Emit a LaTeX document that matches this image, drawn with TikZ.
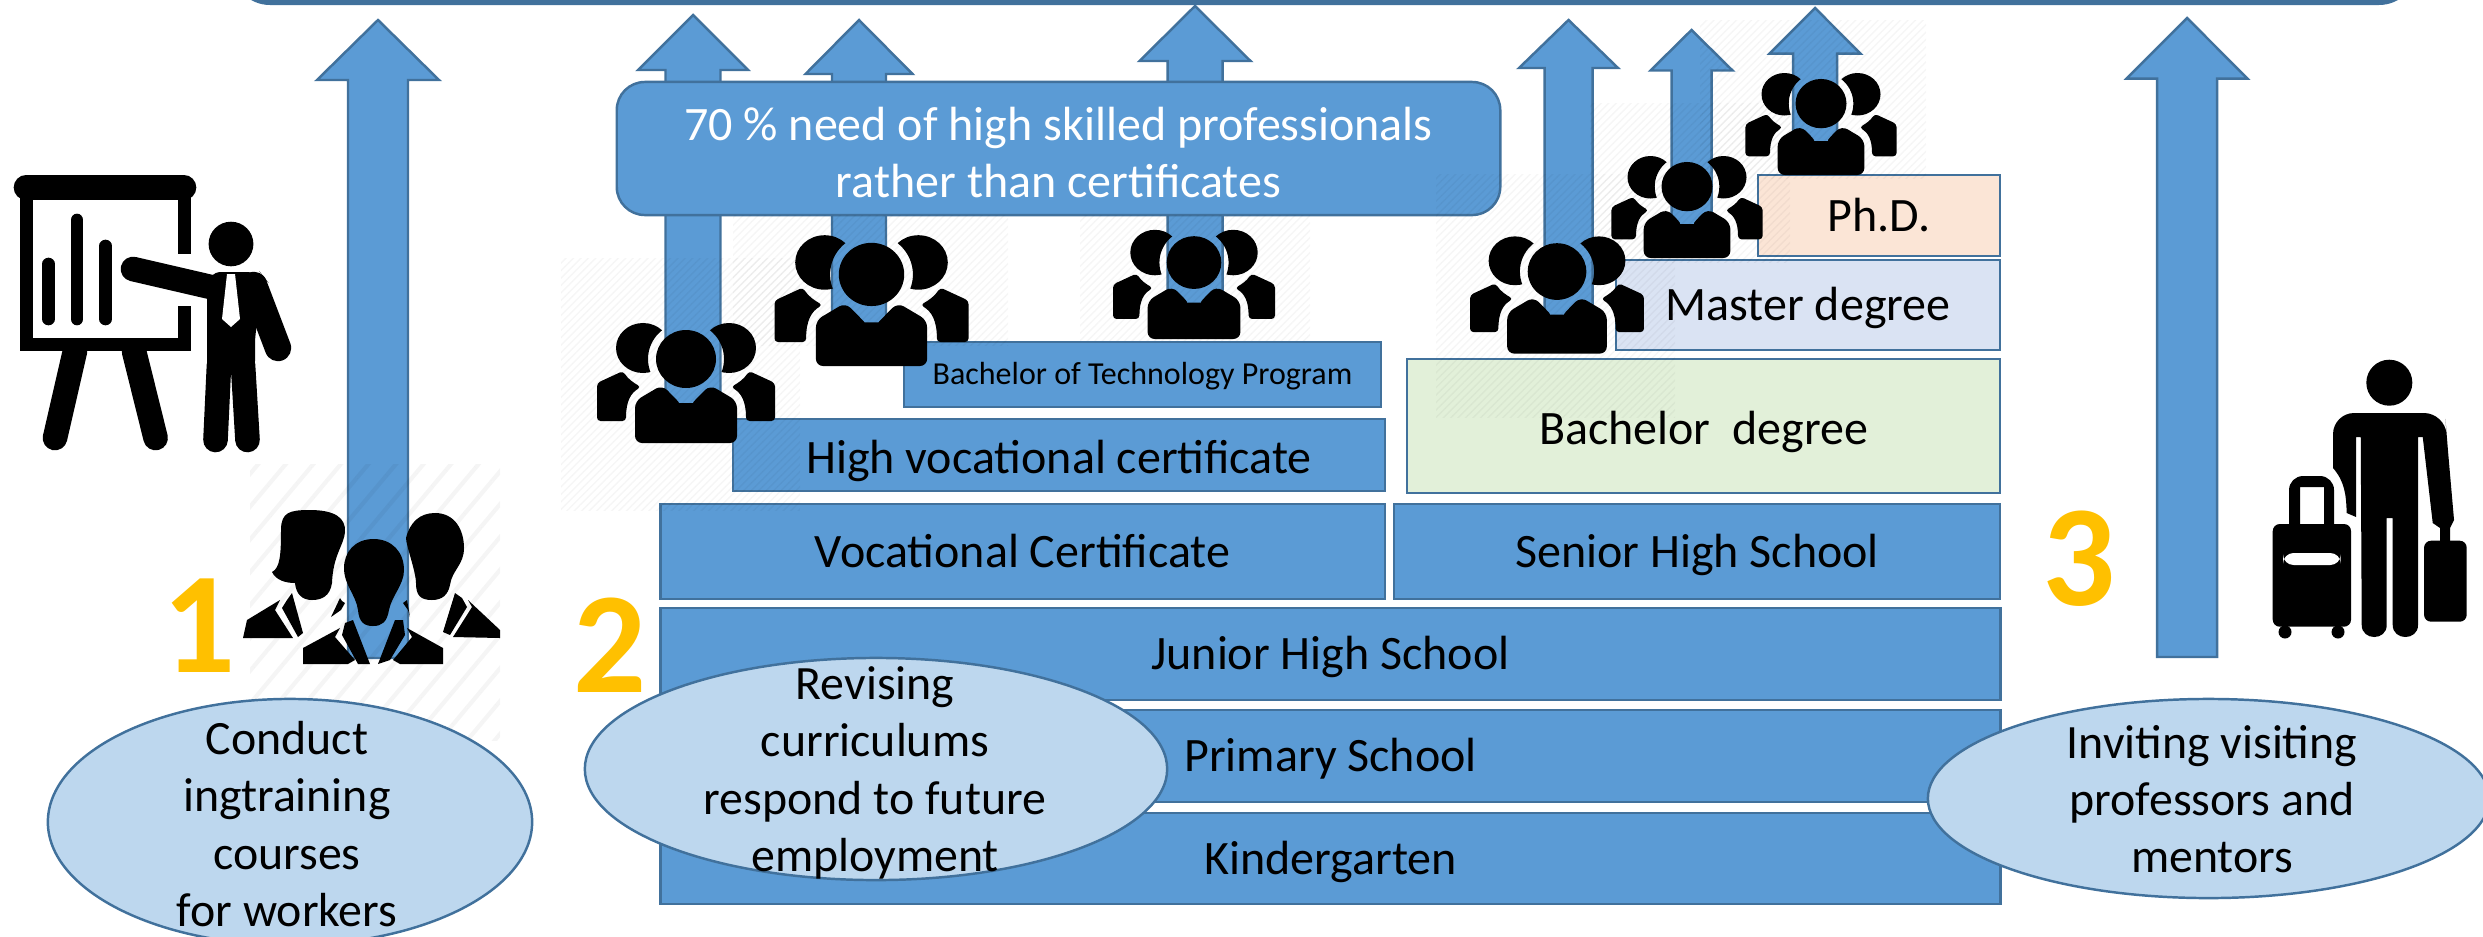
\documentclass[tikz,border=0pt]{standalone}
\usepackage{fontspec}
\setmainfont{Carlito}
\usepackage{xcolor}
\usetikzlibrary{calc,shapes.geometric,patterns.meta}
\definecolor{boxblue}{HTML}{5B9BD5}
\definecolor{edgeblue}{HTML}{41719C}
\definecolor{ovalblue}{HTML}{BDD7EE}
\definecolor{gold}{HTML}{FFC000}
\definecolor{bachgreen}{HTML}{E2F0D9}
\definecolor{mastblue}{HTML}{DAE3F3}
\definecolor{phdrose}{HTML}{FBE5D6}
\newcommand{\blockup}[6]{\draw[barrow] (#1,#2) -- ({#1+#4},#3) -- ({#1+#5},#3) -- ({#1+#5},#6) -- ({#1-#5},#6) -- ({#1-#5},#3) -- ({#1-#4},#3) -- cycle;}
\tikzset{
pics/crowd/.style={code={
	\begin{scope}[even odd rule]
	\clip (0,-84) ellipse (38 and 37) (-120,-150) rectangle (120,20);
	\fill (-43,-95) ellipse (27 and 25);
	\fill (43,-95) ellipse (27 and 25);
	\end{scope}
	\fill[rounded corners=1pt] (-89,-22) -- (-89,-60) -- (-63,-72) .. controls (-58,-64) and (-52,-60) .. (-45,-56) .. controls (-55,-50) and (-60,-42) .. (-60,-22) -- cycle;
	\fill[rounded corners=1pt] (89,-22) -- (89,-60) -- (63,-72) .. controls (58,-64) and (52,-60) .. (45,-56) .. controls (55,-50) and (60,-42) .. (60,-22) -- cycle;
	\fill (0,-84) ellipse (30 and 29);
	\fill[rounded corners=2pt] (-51,0) -- (-51,-42) -- (-24,-58) .. controls (-14,-48) and (-6,-40) .. (0,-40) .. controls (6,-40) and (14,-48) .. (24,-58) -- (51,-42) -- (51,0) -- cycle;
}}
}
\begin{document}
\begin{tikzpicture}[x=0.01cm,y=-0.01cm,
	lvl/.style={draw=edgeblue,fill=boxblue,line width=.7pt,inner sep=0,text height=12.9pt,text depth=4pt,font=\fontsize{13.65}{16}\selectfont},
	oval/.style={ellipse,draw=edgeblue,fill=ovalblue,line width=.7pt,inner sep=0},
	ovaltext/.style={align=center,inner sep=0,font=\fontsize{13.6}{16.3}\selectfont},
	barrow/.style={draw=edgeblue,fill=boxblue,line width=.7pt},
	digit/.style={text=gold,inner sep=0,font=\fontsize{41}{41}\selectfont\bfseries},
	hatch/.style={pattern={Lines[angle=45,distance=1.5pt,line width=.4pt]},pattern color=black,opacity=.035},
	widehatch/.style={pattern={Lines[angle=50,distance=6pt,line width=1.2pt]},pattern color=black,opacity=.04}]

\clip (0,0) rectangle (2483,936);

\fill[edgeblue,rounded corners=10.8pt] (232,-100) rectangle (2417,5);

%levels
\node[lvl,minimum width=13.39cm,minimum height=.91cm] (kinder) at (1330.5,858.5) {Kindergarten};
\node[lvl,minimum width=13.39cm,minimum height=.92cm] (primary) at (1330.5,756) {Primary School};
\node[lvl,minimum width=13.39cm,minimum height=.92cm] (junior) at (1330.5,654) {Junior High School};
\node[lvl,minimum width=7.24cm,minimum height=.95cm] (voc) at (1022.5,551.5) {Vocational Certificate};
\node[lvl,minimum width=6.06cm,minimum height=.95cm] (senior) at (1697,551.5) {Senior High School};
\node[lvl,minimum width=6.52cm,minimum height=.72cm,text depth=2.5pt] (highvoc) at (1059,455) {High vocational certificate};
\node[lvl,minimum width=4.77cm,minimum height=.65cm,text height=8.6pt,text depth=2.7pt,font=\fontsize{9.1}{11}\selectfont] (techprog) at (1142.5,374.5) {Bachelor of Technology Program};
\node[lvl,fill=bachgreen,minimum width=5.93cm,minimum height=1.34cm,text depth=2.5pt] (bachelor) at (1703.5,426) {Bachelor\ \ degree};
\node[lvl,fill=mastblue,minimum width=3.84cm,minimum height=.9cm] (master) at (1808,305) {Master degree};
\node[lvl,fill=phdrose,minimum width=2.42cm,minimum height=.81cm] (phd) at (1879,215.5) {Ph.D.};

%arrows
\blockup{378}{20}{80}{61}{30}{658}
\blockup{693}{15}{70}{55}{27.5}{420}
\blockup{859}{20}{74}{53.5}{27}{340}
\blockup{1195}{6}{61}{55.5}{27.5}{320}
\blockup{1568.5}{20}{68}{49.5}{24}{335}
\blockup{1691.5}{30}{70.5}{41}{20}{240}
\blockup{1815}{8}{53.6}{45.5}{22}{160}
\blockup{2187}{18}{78.6}{60.5}{30}{657}

\node[draw=edgeblue,fill=boxblue,line width=.7pt,inner sep=0,text=white,rounded corners=8pt,minimum width=8.83cm,minimum height=1.33cm,align=center,font=\fontsize{13.65}{16.2}\selectfont] (skilled) at (1058.5,148.5) {\rule{0pt}{11.7pt}70 \% need of high skilled professionals\\rather than certificates};

%image backgrounds
\fill[hatch] (561,258) rectangle (800,510);
\fill[hatch] (733,215) rectangle (1008,345);
\fill[hatch] (1080,215) rectangle (1310,340);
\fill[hatch] (1436,174) rectangle (1675,417);
\fill[hatch] (1590,103) rectangle (1790,262);
\fill[hatch] (1700,20) rectangle (1926,178);
\fill[widehatch] (250,464) rectangle (500,740);

%groups on the steps
\pic[scale=1] at (686,443) {crowd};
\pic[scale=1.09] at (871.5,366) {crowd};
\pic[scale=.91] at (1194,339) {crowd};
\pic[scale=.977] at (1557,353.6) {crowd};
\pic[scale=.85] at (1687,258) {crowd};
\pic[scale=.85] at (1821,175) {crowd};

%workers
\begin{scope}
\fill (281,530) .. controls (281,512) and (290,510) .. (310,510) .. controls (335,510) and (346,518) .. (345,532) .. controls (344,545) and (333,555) .. (332,583) .. controls (330,596) and (322,600) .. (312,600) .. controls (302,600) and (296,594) .. (295,583) .. controls (285,583) and (276,580) .. (272,572) .. controls (280,568) and (281,555) .. (281,530) -- cycle;
\fill (435,513) .. controls (455,513) and (464,530) .. (464,548) .. controls (464,565) and (452,570) .. (450,585) .. controls (448,595) and (442,600) .. (432,600) .. controls (420,600) and (416,595) .. (416,583) .. controls (416,572) and (406,545) .. (406,538) .. controls (410,522) and (420,513) .. (435,513) -- cycle;
\fill (243,638) -- (247,620) -- (280,600) -- (275,610) -- (293,638) -- cycle;
\fill (292,593) -- (303,633) -- (298,637) -- (282,608) -- (287,600) -- cycle;
\fill (500,638) -- (500,630) -- (468,600) -- (472,607) -- (453,637) -- cycle;
\fill (455,593) -- (443,632) -- (450,635) -- (467,607) -- (462,598) -- cycle;
\fill (331,617) -- (340,598) -- (342,601) -- (345,603) -- (341,610) -- cycle;
\fill (410,617) -- (407,600) -- (403,603) -- (408,610) -- cycle;
\fill (373.5,539) .. controls (392,539) and (404,552) .. (404,570) .. controls (404,585) and (392,595) .. (389,610) .. controls (387,622) and (382,626) .. (373,626) .. controls (364,626) and (359,622) .. (358,610) .. controls (356,595) and (344,585) .. (344,568) .. controls (344,552) and (355,539) .. (373.5,539) -- cycle;
\fill (303,664) -- (303,648) -- (340,628) -- (335,637) -- (355,660) -- (348,664) -- cycle;
\fill (345,623) -- (353,620) -- (370,664) -- (358,664) -- (342,635) -- cycle;
\fill (443,664) -- (443,648) -- (407,628) -- (412,637) -- (393,660) -- (400,664) -- cycle;
\fill (403,620) -- (395,620) -- (378,664) -- (390,660) -- (405,635) -- cycle;
\end{scope}

%presenter
\draw[line width=7pt,line cap=round] (26,187.5) -- (184,187.5);
\draw[line width=3.5pt] (26.5,190) -- (26.5,344.5) -- (184.5,344.5) -- (184.5,306);
\draw[line width=3.5pt] (184.5,190) -- (184.5,254);
\foreach \barx/\bary in {48.5/264,77/220,105.6/246}
	\draw[line width=3.6pt,line cap=round] (\barx,\bary) -- (\barx,319);
\draw[line width=7pt,line cap=round] (75,351) -- (55,438);
\draw[line width=7pt,line cap=round] (134,351) -- (155.6,438);
\fill (231,244) ellipse (22.4 and 22.3);
\draw[line width=7pt,line cap=round] (133,269) -- (215,288);
\fill[rounded corners=4pt] (207,272) -- (260,272) -- (268,282) -- (255,330) -- (255,375) -- (207,375) -- cycle;
\draw[line width=7pt,line cap=round] (219,365) -- (215.5,440);
\draw[line width=7pt,line cap=round] (243,365) -- (247.5,440);
\draw[line width=7.5pt,line cap=round] (254,285) -- (278,348);
\fill[white] (227,274) -- (222,319) -- (231,327) -- (240,319) -- (235,274) -- cycle;

%traveller
\fill (2389.3,382.7) circle (23);
\fill (2333,468) [rounded corners=6pt] -- (2333,413) -- (2445,413) -- (2447,440) [sharp corners] -- (2454,520) -- (2450,528) -- (2450,541) -- (2440,541) -- (2440,528) -- (2432.7,523) -- (2422.7,437) -- (2418,437) -- (2418,625) .. controls (2418,641) and (2392.7,641) .. (2392.7,625) -- (2392.7,518) -- (2386.7,518) -- (2386.7,625) .. controls (2386.7,641) and (2361.7,641) .. (2361.7,625) -- (2360.7,437) -- (2356,437) -- (2356,517) -- (2346.7,513) .. controls (2346,495) and (2345,482) .. (2333,468) -- cycle;
\fill[rounded corners=2pt] (2424,540.7) rectangle (2466.7,621.7);
\fill[rounded corners=2pt] (2272.7,524) rectangle (2351,626.7);
\fill (2289,530) [rounded corners=4pt] -- (2289,476) -- (2334,476) [sharp corners] -- (2334,530) -- (2324,530) -- (2324,487) -- (2300,487) -- (2300,530) -- cycle;
\fill (2285,632) circle (6.5);
\fill (2338,632) circle (6.5);
\fill[white,rounded corners=3pt] (2283,553) rectangle (2340.7,565);

%ovals
\node[oval,minimum width=4.84cm,minimum height=2.46cm] (courses) at (290,822) {};
\node[ovaltext] (coursestext) at (287,824) {Conduct\\ingtraining\\courses\\for workers};
\node[oval,minimum width=5.82cm,minimum height=2.22cm] (revising) at (876,769) {};
\node[ovaltext] (revisingtext) at (875,773) {Revising\\curriculums\\respond to future\\employment};
\node[oval,minimum width=5.61cm,minimum height=1.99cm] (inviting) at (2208.5,798.5) {};
\node[ovaltext] (invitingtext) at (2212,799) {Inviting visiting\\professors and\\mentors};

%numbers
\node[digit] (one) at (199,626) {1};
\node[digit] (two) at (610,645) {2};
\node[digit] (three) at (2079,559) {3};
\end{tikzpicture}
\end{document}
